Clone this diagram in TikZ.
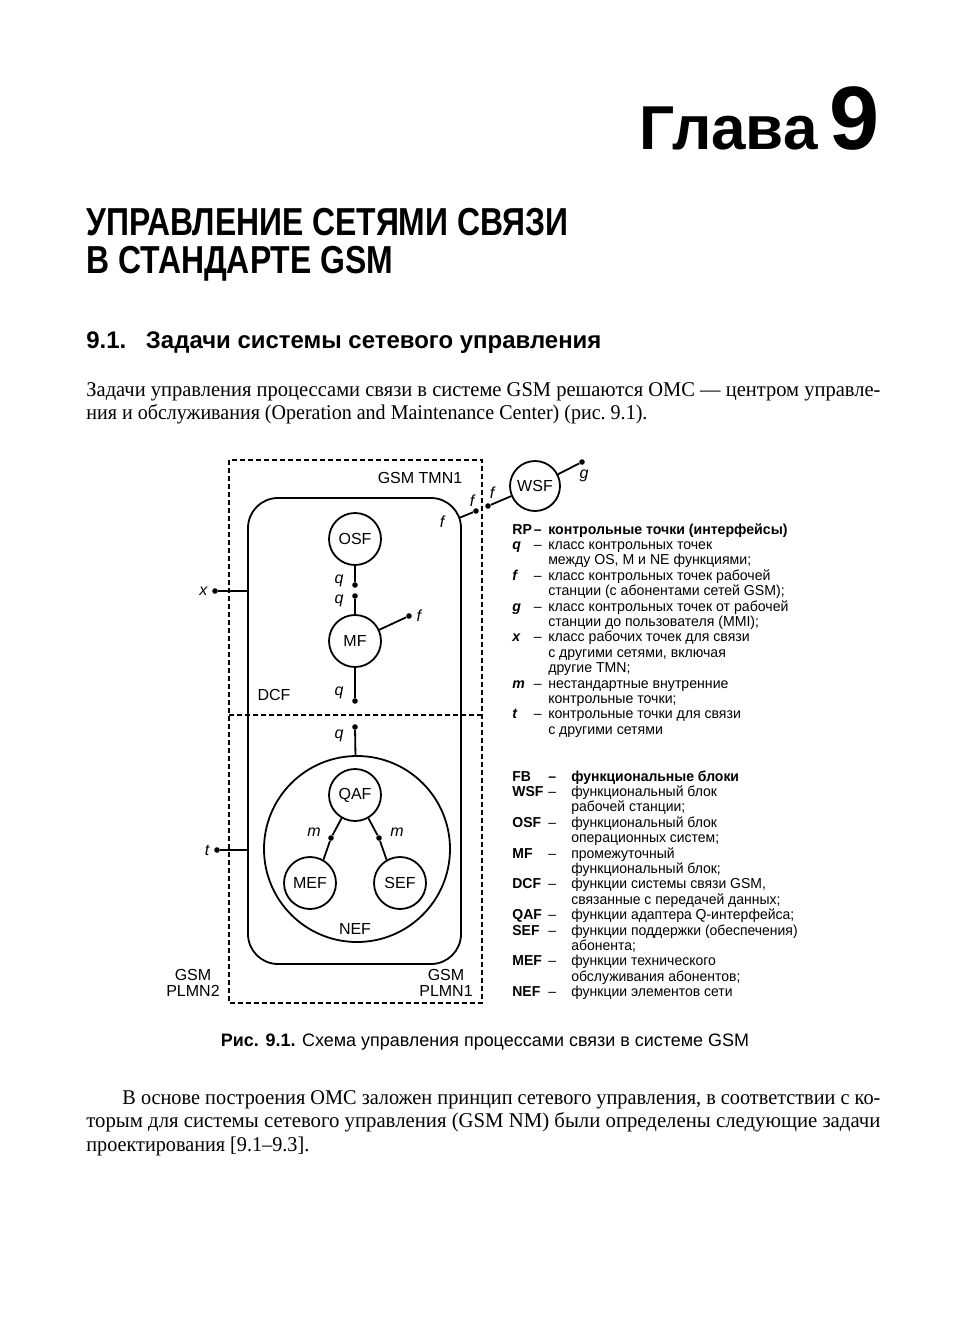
\documentclass[tikz,border=0pt]{standalone}
\usepackage{fontspec}
\usepackage{graphicx}
\setmainfont{Liberation Serif}
\setsansfont{Liberation Sans}
\usetikzlibrary{positioning}
\tikzset{
  fb/.style={draw, circle, line width=0.9pt, minimum size=26pt, inner sep=0pt,
    font=\sffamily\fontsize{8}{9}\selectfont},
  rp/.style={circle, fill, inner sep=0pt, minimum size=2.8pt},
  rplabel/.style={font=\sffamily\itshape\fontsize{8}{9}\selectfont, inner sep=1pt},
  plain/.style={font=\sffamily\fontsize{8}{8}\selectfont, inner sep=0pt, align=center},
  boundary/.style={line width=0.8pt, dash pattern=on 2.6pt off 1.4pt},
  link/.style={line width=0.9pt},
  legend/.style={font=\sffamily\fontsize{7.2}{7.7}\selectfont, anchor=base west, inner sep=0pt},
  bodyline/.style={font=\fontsize{10.5}{11.5}\selectfont, anchor=base west, inner sep=0pt},
  heading/.style={font=\sffamily\bfseries, anchor=base west, inner sep=0pt}
}
\newcommand{\fitto}[2]{\resizebox{#1}{\height}{#2}}
\begin{document}
\begin{tikzpicture}[x=0.5pt, y=-0.5pt]
\useasboundingbox[fill=white] (0,0) rectangle (964,1332);
% chapter head
\node[heading, anchor=base east, font=\sffamily\bfseries\fontsize{45}{45}\selectfont] (chapnum) at (880,150) {9};
\node[heading, anchor=base east, font=\sffamily\bfseries\fontsize{31}{31}\selectfont] (chapword) at (818,150) {Глава};
\node[heading] (title1) at (86,235) {\fitto{241pt}{\fontsize{19.5}{20}\selectfont УПРАВЛЕНИЕ СЕТЯМИ СВЯЗИ}};
\node[heading] (title2) at (86,273) {\fitto{153.5pt}{\fontsize{19.5}{20}\selectfont В СТАНДАРТЕ GSM}};
\node[heading] (sect) at (86,348) {\fitto{257.5pt}{\fontsize{12}{13}\selectfont 9.1.\hspace{0.45em} Задачи системы сетевого управления}};
% text before the figure
\node[bodyline] (para1a) at (86,396) {\fitto{397pt}{Задачи управления процессами связи в системе GSM решаются ОМС~--- центром управле-}};
\node[bodyline] (para1b) at (86,419) {\fitto{280.5pt}{ния и обслуживания (Operation and Maintenance Center) (рис.~9.1).}};
% boundaries
\draw[boundary] (229,460) rectangle (482,1003);
\draw[boundary] (229,715) -- (482,715);
\node[draw, link, rounded corners=15pt, minimum width=106.5pt, minimum height=233pt] (dcfbox) at (354.5,731) {};
% function blocks
\node[fb] (osf) at (355,539) {OSF};
\node[fb] (mf) at (355,641) {MF};
\node[fb, minimum size=93pt] (nef) at (357,849) {};
\node[fb] (qaf) at (355,795) {QAF};
\node[fb] (mef) at (310,883) {MEF};
\node[fb] (sef) at (400,883) {SEF};
\node[fb, minimum size=25pt] (wsf) at (535,486) {WSF};
% reference points
\node[rp] (qa) at (355,585) {};
\node[rp] (qb) at (355,596) {};
\node[rp] (fmf) at (409,616) {};
\node[rp] (qc) at (355,701) {};
\node[rp] (qd) at (355,727) {};
\node[rp] (ma) at (331,838) {};
\node[rp] (mb) at (379,838) {};
\node[rp] (xdot) at (215,591) {};
\node[rp] (tdot) at (217,850) {};
\node[rp] (fin) at (476,511) {};
\node[rp] (fout) at (488,506) {};
\node[rp] (gdot) at (582,462) {};
\coordinate (fcorner) at (459,518);
% connectors
\draw[link] (osf) -- (qa);
\draw[link] (qb) -- (mf);
\draw[link] (mf) -- (fmf);
\draw[link] (mf) -- (qc);
\draw[link] (qd) -- (nef);
\draw[link] (qaf.240) -- (ma) -- (mef.60);
\draw[link] (qaf.300) -- (mb) -- (sef.120);
\draw[link] (xdot) -- (xdot -| dcfbox.west);
\draw[link] (tdot) -- (tdot -| dcfbox.west);
\draw[link] (fcorner) -- (fin);
\draw[link] (fout) -- (wsf);
\draw[link] (wsf) -- (gdot);
% labels
\node[rplabel] at (339,581) {q};
\node[rplabel] at (339,601) {q};
\node[rplabel, right=1pt of fmf] {f};
\node[rplabel] at (339,693) {q};
\node[rplabel] at (339,736) {q};
\node[rplabel] at (314,832) {m};
\node[rplabel] at (397,832) {m};
\node[rplabel, left=1pt of xdot] {x};
\node[rplabel, left=1pt of tdot] {t};
\node[rplabel] at (442,522) {f};
\node[rplabel] at (472,501) {f};
\node[rplabel] at (492,493) {f};
\node[rplabel] at (584,476) {g};
\node[plain] (dcflabel) at (274,695) {DCF};
\node[plain] (neflabel) at (355,929) {NEF};
\node[plain] (tmn) at (420,478) {GSM TMN1};
\node[plain] (plmn2) at (193,983) {GSM\\PLMN2};
\node[plain] (plmn1) at (446,983) {GSM\\PLMN1};
% legends
\node[legend] (rplegend) at (512,534) {\scalebox{0.98}[1]{\begin{tabular}[t]{@{}p{11pt}@{}p{4.8pt}@{\hspace{2.5pt}}l@{}}
\textbf{RP} & \textbf{--} & \textbf{контрольные точки (интерфейсы)}\\
\textbf{\itshape q} & -- & класс контрольных точек\\
 & & между OS, M и NE функциями;\\
\textbf{\itshape f} & -- & класс контрольных точек рабочей\\
 & & станции (с абонентами сетей GSM);\\
\textbf{\itshape g} & -- & класс контрольных точек от рабочей\\
 & & станции до пользователя (MMI);\\
\textbf{\itshape x} & -- & класс рабочих точек для связи\\
 & & с другими сетями, включая\\
 & & другие TMN;\\
\textbf{\itshape m} & -- & нестандартные внутренние\\
 & & контрольные точки;\\
\textbf{\itshape t} & -- & контрольные точки для связи\\
 & & с другими сетями
\end{tabular}}};
\node[legend] (fblegend) at (512,781) {\scalebox{0.97}[1]{\begin{tabular}[t]{@{}p{18.5pt}@{}p{5pt}@{\hspace{6.9pt}}l@{}}
\textbf{FB} & \textbf{--} & \textbf{функциональные блоки}\\
\textbf{WSF} & -- & функциональный блок\\
 & & рабочей станции;\\
\textbf{OSF} & -- & функциональный блок\\
 & & операционных систем;\\
\textbf{MF} & -- & промежуточный\\
 & & функциональный блок;\\
\textbf{DCF} & -- & функции системы связи GSM,\\
 & & связанные с передачей данных;\\
\textbf{QAF} & -- & функции адаптера Q-интерфейса;\\
\textbf{SEF} & -- & функции поддержки (обеспечения)\\
 & & абонента;\\
\textbf{MEF} & -- & функции технического\\
 & & обслуживания абонентов;\\
\textbf{NEF} & -- & функции элементов сети
\end{tabular}}};
% caption
\node[inner sep=0pt, anchor=base] (caption) at (485,1046) {\fitto{264pt}{\sffamily\fontsize{9}{10}\selectfont\textbf{Рис. 9.1.} Схема управления процессами связи в системе GSM}};
% text after the figure
\node[bodyline] (para2a) at (122,1104) {\fitto{379pt}{В основе построения ОМС заложен принцип сетевого управления, в соответствии с ко-}};
\node[bodyline] (para2b) at (86,1127) {\fitto{397pt}{торым для системы сетевого управления (GSM NM) были определены следующие задачи}};
\node[bodyline] (para2c) at (86,1151) {\fitto{111.5pt}{проектирования [9.1--9.3].}};
\end{tikzpicture}
\end{document}
